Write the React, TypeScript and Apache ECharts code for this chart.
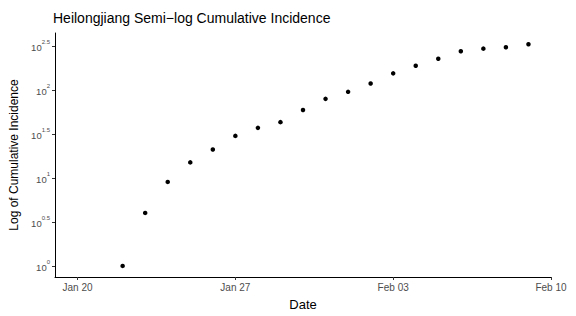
import React, { useEffect, useRef } from "react";
import * as echarts from "echarts";

const dates = [
  "2020-01-22", "2020-01-23", "2020-01-24", "2020-01-25", "2020-01-26",
  "2020-01-27", "2020-01-28", "2020-01-29", "2020-01-30", "2020-01-31",
  "2020-02-01", "2020-02-02", "2020-02-03", "2020-02-04", "2020-02-05",
  "2020-02-06", "2020-02-07", "2020-02-08", "2020-02-09",
];
const cumulative = [1, 4, 9, 15, 21, 30, 37, 43, 59, 79, 95, 118, 154, 188, 226, 275, 294, 305, 330];
const xTicks = ["2020-01-20", "2020-01-27", "2020-02-03", "2020-02-10"];
const yExponents = [0, 0.5, 1, 1.5, 2, 2.5];
const xMin = "2020-01-19";
const xMax = "2020-02-10";
const yMinExp = -0.126;
const yMaxExp = 2.646;

const MONTHS = ["Jan", "Feb", "Mar", "Apr", "May", "Jun", "Jul", "Aug", "Sep", "Oct", "Nov", "Dec"];

function toTime(s: string): number {
  const [y, m, d] = s.split("-").map(Number);
  return new Date(y, m - 1, d).getTime();
}

const FONT = "'Liberation Sans', Arial, sans-serif";

export default function App() {
  const ref = useRef<HTMLDivElement>(null);
  useEffect(() => {
    if (!ref.current) return;
    const chart = echarts.init(ref.current, undefined, { renderer: "svg" });
    const yTickVals = yExponents.map((e) => Math.pow(10, e));
    chart.setOption({
      animation: false,
      backgroundColor: "#ffffff",
      title: {
        text: "Heilongjiang Semi\u2212log Cumulative Incidence",
        left: 48,
        top: 6,
        textStyle: { fontFamily: FONT, fontSize: 14, fontWeight: "normal", color: "#000" },
      },
      grid: { left: 55, right: 25, top: 33, bottom: 36, containLabel: false },
      xAxis: {
        type: "value",
        min: toTime(xMin),
        max: toTime(xMax),
        name: "Date",
        nameLocation: "middle",
        nameGap: 21,
        nameTextStyle: { fontFamily: FONT, fontSize: 13, color: "#000" },
        axisLine: { lineStyle: { color: "#000", width: 1 } },
        axisTick: {
          customValues: xTicks.map(toTime),
          length: 3,
          lineStyle: { color: "#333" },
        },
        axisLabel: {
          customValues: xTicks.map(toTime),
          fontFamily: FONT,
          fontSize: 10,
          color: "#4d4d4d",
          margin: 5,
          formatter: (v: number) => {
            const d = new Date(v);
            const dd = d.getDate();
            return MONTHS[d.getMonth()] + " " + (dd < 10 ? "0" + dd : String(dd));
          },
        },
        splitLine: { show: false },
      },
      yAxis: {
        type: "log",
        logBase: 10,
        min: Math.pow(10, yMinExp),
        max: Math.pow(10, yMaxExp),
        name: "Log of Cumulative Incidence",
        nameLocation: "middle",
        nameGap: 29,
        nameTextStyle: { fontFamily: FONT, fontSize: 12, color: "#000" },
        axisLine: { show: true, lineStyle: { color: "#000", width: 1 } },
        axisTick: {
          show: true,
          customValues: yTickVals,
          length: 3,
          lineStyle: { color: "#333" },
        },
        axisLabel: {
          customValues: yTickVals,
          margin: 5,
          formatter: (v: number) => {
            const e = Math.round(Math.log10(v) * 10) / 10;
            return "{b|10}{s|" + String(e) + "}";
          },
          rich: {
            b: { fontFamily: FONT, fontSize: 9.5, color: "#4d4d4d", lineHeight: 14, verticalAlign: "bottom" },
            s: { fontFamily: FONT, fontSize: 6, color: "#4d4d4d", lineHeight: 14, verticalAlign: "top" },
          },
        },
        splitLine: { show: false },
      },
      series: [
        {
          type: "scatter",
          data: dates.map((d, i) => [toTime(d), cumulative[i]]),
          symbol: "circle",
          symbolSize: 4.5,
          itemStyle: { color: "#000", opacity: 1 },
        },
      ],
    });
    return () => chart.dispose();
  }, []);
  return <div ref={ref} style={{ width: 576, height: 316, position: "absolute", left: 0, top: 0 }} />;
}
